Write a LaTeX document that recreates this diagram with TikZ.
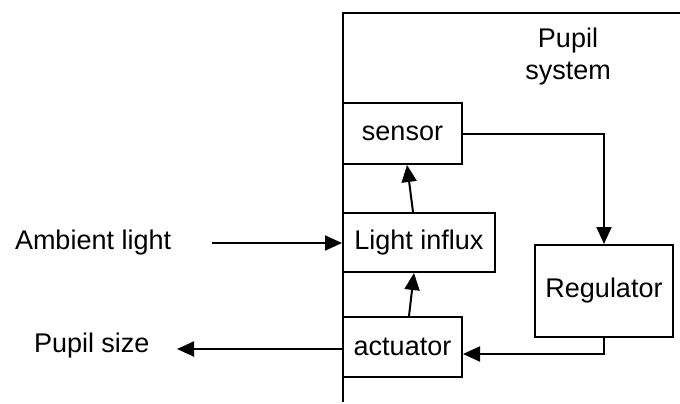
\documentclass[tikz,border=0pt]{standalone}
\usepackage{fontspec}
\setmainfont{Liberation Sans}
\usetikzlibrary{arrows.meta,calc}
\begin{document}
\begin{tikzpicture}[x=1pt,y=-1pt,line width=2pt,
  txt/.style={font=\fontsize{27}{32}\selectfont,inner sep=0pt},
  blk/.style={draw,line width=2pt,inner sep=0pt,font=\fontsize{27}{32}\selectfont},
  arr/.style={-{Triangle[length=17pt,width=15pt]}}]
\useasboundingbox (0,0) rectangle (680,404);
% system boundary
\draw (680,13) -- (343,13) -- (343,402);
\node[txt,align=center] (ps) at (568,57) {Pupil\\system};
% blocks
\node[blk,minimum width=119pt,minimum height=61pt] (sen) at (402.5,133.5) {sensor};
\node[blk,minimum width=152pt,minimum height=59pt] (li) at (419,242.5) {Light influx};
\node[blk,minimum width=119pt,minimum height=60pt] (act) at (402.5,347) {actuator};
\node[blk,minimum width=138pt,minimum height=92pt] (reg) at (604,291) {Regulator};
% outside labels
\node[txt,anchor=west] (amb) at (14,243) {Ambient light};
\node[txt,anchor=west] (psz) at (33,346) {Pupil size};
\coordinate (ambs) at (212,243);
\coordinate (psze) at (177,349);
% connectors
\draw[arr] (sen.east) -| (reg.north);
\draw[arr] (reg.south) |- ($(act.east)+(0,7)$);
\draw[arr] ($(act.north west)+(67,0)$) -- ($(li.south west)+(72,0)$);
\draw[arr] ($(li.north west)+(71,0)$) -- ($(sen.south west)+(65,0)$);
\draw[arr] (ambs) -- (ambs -| li.west);
\draw[arr] (psze -| act.west) -- (psze);
\end{tikzpicture}
\end{document}
